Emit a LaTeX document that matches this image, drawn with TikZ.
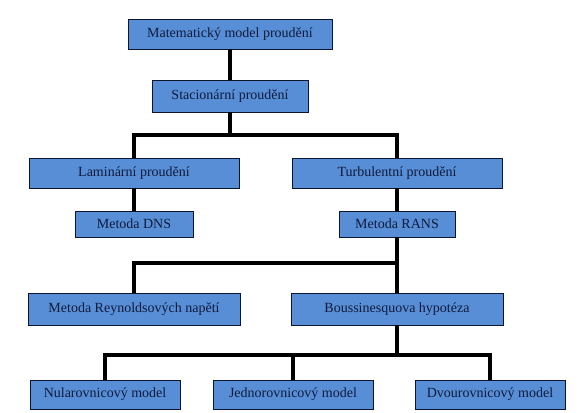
\documentclass[tikz,border=0pt]{standalone}
\usepackage{fontspec}
\setmainfont{Liberation Serif}
\usepackage{xcolor}
\usetikzlibrary{positioning,calc}
\definecolor{boxblue}{HTML}{588ED6}
\definecolor{boxedge}{HTML}{0C1530}
\definecolor{textnavy}{HTML}{0E1B3C}
\tikzset{
  box/.style={draw=boxedge, fill=boxblue, line width=0.9pt, text=textnavy,
    inner sep=0pt, font=\rmfamily\fontsize{14}{16}\selectfont},
  link/.style={black, line width=3.4pt}
}
\begin{document}
\begin{tikzpicture}[x=1pt,y=-1pt]
  \useasboundingbox (0,0) rectangle (580,412);
  \node[box, minimum width=204, minimum height=30] (mat)  at (230,34)  {Matematický model proudění};
  \node[box, minimum width=156, minimum height=32] (stac) at (230,96)  {Stacionární proudění};
  \node[box, minimum width=210, minimum height=30] (lam)  at (134,173) {Laminární proudění};
  \node[box, minimum width=210, minimum height=30] (turb) at (397,173) {Turbulentní proudění};
  \node[box, minimum width=118, minimum height=26] (dns)  at (134,224) {Metoda DNS};
  \node[box, minimum width=116, minimum height=26] (rans) at (397,224) {Metoda RANS};
  \node[box, minimum width=212, minimum height=32] (reyn) at (134,309) {Metoda Reynoldsových napětí};
  \node[box, minimum width=212, minimum height=32] (bous) at (397,309) {Boussinesquova hypotéza};
  \node[box, minimum width=150, minimum height=29] (nul)  at (105,394.5) {Nularovnicový model};
  \node[box, minimum width=160, minimum height=29] (jedn) at (293,394.5) {Jednorovnicový model};
  \node[box, minimum width=150, minimum height=29] (dvou) at (490,394.5) {Dvourovnicový model};
  \coordinate (j1) at (230,135);
  \coordinate (j2) at (397,263);
  \coordinate (j3) at (397,355);
  \draw[link] (mat) -- (stac);
  \draw[link] (stac) -- (j1);
  \draw[link] (lam.north) |- (j1) -| (turb.north);
  \draw[link] (lam) -- (dns);
  \draw[link] (turb) -- (rans);
  \draw[link] (rans) -- (bous);
  \draw[link] (reyn.north) |- (j2);
  \draw[link] (bous) -- (j3);
  \draw[link] (nul.north) |- (j3) -| (dvou.north);
  \draw[link] (jedn.north) -- (jedn.north |- j3);
\end{tikzpicture}
\end{document}
